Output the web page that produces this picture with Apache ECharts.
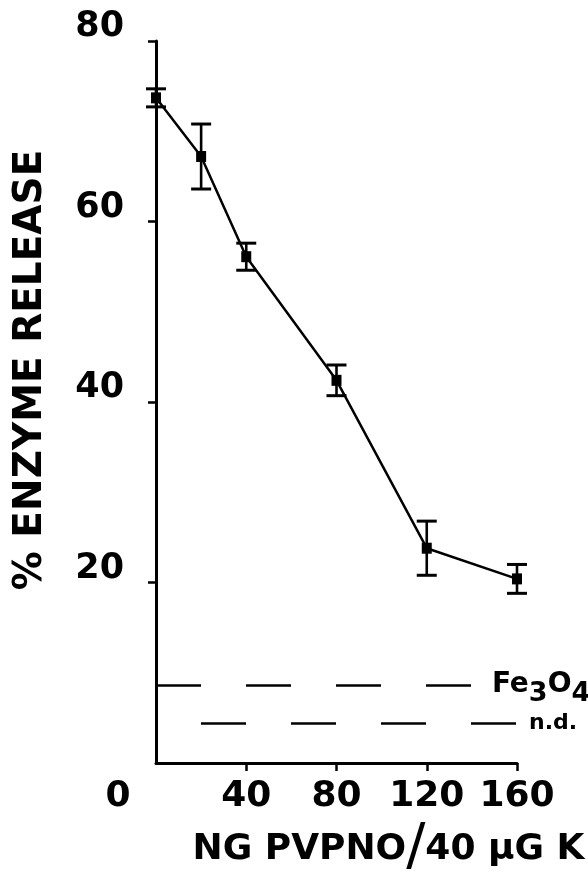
<!DOCTYPE html>
<html><head><meta charset="utf-8">
<script src="https://cdn.jsdelivr.net/npm/echarts@6/dist/echarts.min.js"></script>
<style>html,body{margin:0;padding:0;background:#fff}#c{width:588px;height:874px}</style>
</head><body><div id="c"></div>
<script>
// data
const doseNg = [0, 20, 40, 80, 120, 160];
const releasePct = [73.7, 67.2, 56.1, 42.4, 23.8, 20.4];
const releaseErr = [1.0, 3.6, 1.5, 1.7, 3.0, 1.6];
const xTickValues = [0, 40, 80, 120, 160];
const yTickValues = [0, 20, 40, 60, 80];
const fe3o4Level = 8.6;
const fe3o4End = 140;
const ndLevel = 4.4;
const ndEnd = 160;
const xTitle = ['NG PVPNO', '/', '40 μG K'];
const yTitle = '% ENZYME RELEASE';

const FONT = 'DejaVu Sans';
const INK = '#000';

const lineData = doseNg.map((x, i) => [x, releasePct[i]]);
const errData = doseNg.map((x, i) => [x, releasePct[i] - releaseErr[i], releasePct[i] + releaseErr[i]]);

const chart = echarts.init(document.getElementById('c'), null, {renderer: 'canvas'});
chart.setOption({
  animation: false,
  backgroundColor: '#fff',
  grid: {left: 156, right: 71, top: 41, bottom: 111, containLabel: false, outerBoundsMode: 'none'},
  xAxis: {
    type: 'value', min: xTickValues[0], max: xTickValues[xTickValues.length - 1], interval: 40,
    splitLine: {show: false},
    axisLine: {show: true, lineStyle: {color: INK, width: 3}},
    axisTick: {show: true, length: 8, lineStyle: {color: INK, width: 2.5}, customValues: xTickValues.slice(1)},
    axisLabel: {
      color: INK, fontFamily: FONT, fontWeight: 'bold', fontSize: 36, margin: 16,
      formatter: v => (v === 0 ? '{z|0}' : String(v)),
      rich: {z: {color: INK, fontFamily: FONT, fontWeight: 'bold', fontSize: 36, padding: [0, 76, 0, 0]}}
    },
    name: '{a|' + xTitle[0] + '}{s|' + xTitle[1] + '}{a|' + xTitle[2] + '}',
    nameLocation: 'middle', nameGap: 58,
    nameTextStyle: {
      padding: [0, 0, 0, 104],
      rich: {
        a: {color: INK, fontFamily: FONT, fontWeight: 'bold', fontSize: 36, verticalAlign: 'middle'},
        s: {color: INK, fontFamily: FONT, fontWeight: 'normal', fontSize: 57, verticalAlign: 'middle'}
      }
    }
  },
  yAxis: {
    type: 'value', min: yTickValues[0], max: yTickValues[yTickValues.length - 1], interval: 20,
    splitLine: {show: false},
    axisLine: {show: true, lineStyle: {color: INK, width: 3}},
    axisTick: {show: true, length: 8, lineStyle: {color: INK, width: 2.5}, customValues: yTickValues.slice(1)},
    axisLabel: {
      color: INK, fontFamily: FONT, fontWeight: 'bold', fontSize: 35, margin: 32,
      formatter: v => (v === 0 ? '' : '{v|' + v + '}'),
      rich: {v: {color: INK, fontFamily: FONT, fontWeight: 'bold', fontSize: 35, lineHeight: 35, padding: [0, 0, 28, 0]}}
    },
    name: yTitle, nameLocation: 'middle', nameGap: 106,
    nameTextStyle: {color: INK, fontFamily: FONT, fontWeight: 'bold', fontSize: 39, padding: [0, 0, 0, 64]}
  },
  series: [
    {
      type: 'line', data: lineData, symbol: 'rect', symbolSize: [10, 11], showSymbol: true,
      lineStyle: {color: INK, width: 2.5}, itemStyle: {color: INK}, z: 3,
      markLine: {
        silent: true, symbol: ['none', 'none'], animation: false,
        data: [
          [
            {coord: [0, fe3o4Level], lineStyle: {color: INK, width: 2.5, type: [45, 45], dashOffset: 0},
             label: {show: true, position: 'end', distance: 20,
               formatter: '{a|Fe}{b|3}{a|O}{b|4}',
               rich: {
                 a: {color: INK, fontFamily: FONT, fontWeight: 'bold', fontSize: 28, lineHeight: 30, verticalAlign: 'top'},
                 b: {color: INK, fontFamily: FONT, fontWeight: 'bold', fontSize: 27, lineHeight: 30, verticalAlign: 'top', padding: [10, 0, 0, 0]}
               }}},
            {coord: [fe3o4End, fe3o4Level]}
          ],
          [
            {coord: [0, ndLevel], lineStyle: {color: INK, width: 2.5, type: [45, 45], dashOffset: 45},
             label: {show: true, position: 'end', distance: 12, formatter: 'n.d.',
               color: INK, fontFamily: FONT, fontWeight: 'bold', fontSize: 22}},
            {coord: [ndEnd, ndLevel]}
          ]
        ]
      }
    },
    {
      type: 'custom', data: errData, encode: {x: 0, y: [1, 2]}, clip: false, z: 4,
      renderItem: function (params, api) {
        const x = api.value(0);
        const lo = api.coord([x, api.value(1)]);
        const hi = api.coord([x, api.value(2)]);
        const w = 10;
        const st = {stroke: INK, lineWidth: 2.6};
        return {type: 'group', children: [
          {type: 'line', shape: {x1: lo[0], y1: lo[1], x2: hi[0], y2: hi[1]}, style: st},
          {type: 'line', shape: {x1: lo[0] - w, y1: lo[1], x2: lo[0] + w, y2: lo[1]}, style: {stroke: INK, lineWidth: 3}},
          {type: 'line', shape: {x1: hi[0] - w, y1: hi[1], x2: hi[0] + w, y2: hi[1]}, style: {stroke: INK, lineWidth: 3}}
        ]};
      }
    }
  ]
});
</script>
</body></html>
